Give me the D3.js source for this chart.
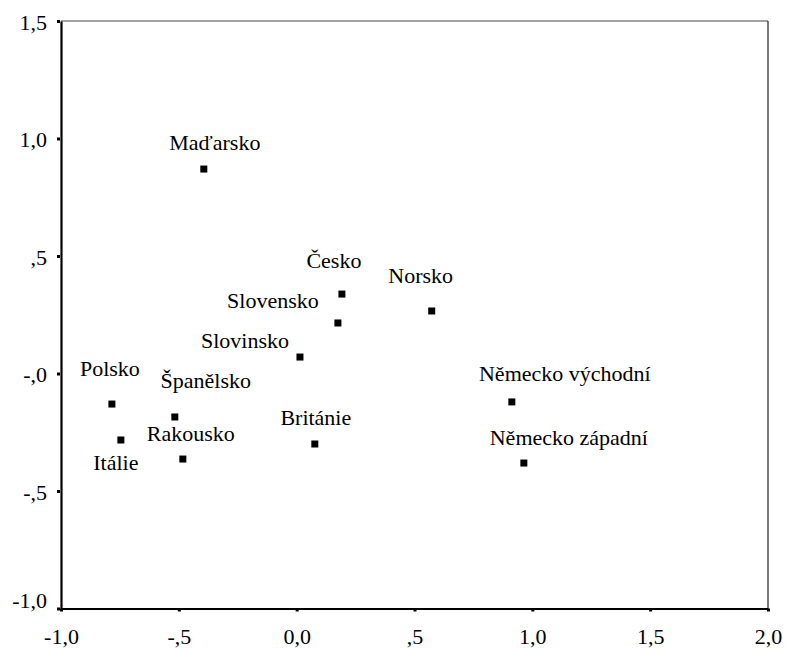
<!DOCTYPE html>
<html><head><meta charset="utf-8">
<script src="https://cdn.jsdelivr.net/npm/d3@7"></script>
<style>
body{margin:0;background:#fff}
svg{display:block}
svg text{font-family:'Liberation Serif','Times New Roman',serif !important;}
</style>
</head><body>
<script>
const countries = ["Maďarsko","Česko","Slovensko","Slovinsko","Norsko","Německo východní","Německo západní","Polsko","Španělsko","Rakousko","Itálie","Británie"];
const dim1 = [-0.394, 0.192, 0.175, 0.014, 0.573, 0.913, 0.964, -0.784, -0.517, -0.483, -0.746, 0.077];
const dim2 = [0.870, 0.338, 0.215, 0.070, 0.266, -0.121, -0.381, -0.130, -0.185, -0.364, -0.283, -0.300];
const xTicks = [-1.0, -0.5, 0.0, 0.5, 1.0, 1.5, 2.0];
const yTicks = [-1.0, -0.5, 0.0, 0.5, 1.0, 1.5];
const xTickLabels = ["-1,0", "-,5", "0,0", ",5", "1,0", "1,5", "2,0"];
const yTickLabels = ["-1,0", "-,5", "-,0", ",5", "1,0", "1,5"];
// label offsets (pixels) relative to markers
const labelDx = [11, -8, -65, -55, -11, 53, 45, -2, 31, 8, -5, 1];
const labelDy = [-19, -26, -15, -9, -28, -21, -18, -28, -29, -18, 30, -19];

const W = 786, H = 648;
const m = {left: 61, right: 768, top: 21, bottom: 608.5};
const svg = d3.select("body").append("svg").attr("width", W).attr("height", H);
const x = d3.scaleLinear().domain([-1, 2]).range([m.left, m.right]);
const y = d3.scaleLinear().domain([-1, 1.5]).range([m.bottom, m.top]);
const fs = 22;

// frame
svg.append("line").attr("x1", m.left).attr("x2", m.right).attr("y1", m.top).attr("y2", m.top).attr("stroke", "#444").attr("stroke-width", 1);
svg.append("line").attr("x1", m.right).attr("x2", m.right).attr("y1", m.top).attr("y2", m.bottom).attr("stroke", "#222").attr("stroke-width", 1.2);

// axes
const xAxis = d3.axisBottom(x).tickValues(xTicks).tickSize(0).tickPadding(0)
  .tickFormat((d, i) => xTickLabels[i]);
const gx = svg.append("g").attr("transform", `translate(0,${m.bottom})`).call(xAxis);
gx.attr("font-family", "Liberation Serif").attr("font-size", fs);
gx.select(".domain").attr("stroke", "#000").attr("stroke-width", 2);
gx.selectAll(".tick text").attr("y", 35).attr("dy", null).attr("fill", "#000");
gx.selectAll(".tick").append("rect").attr("x", -1.5).attr("y", 0).attr("width", 3).attr("height", 3).attr("fill", "#000");

const yAxis = d3.axisLeft(y).tickValues(yTicks).tickSize(0).tickPadding(0)
  .tickFormat((d, i) => yTickLabels[i]);
const gy = svg.append("g").attr("transform", `translate(${m.left},0)`).call(yAxis);
gy.attr("font-family", "Liberation Serif").attr("font-size", fs);
gy.select(".domain").attr("stroke", "#000").attr("stroke-width", 2.2);
gy.selectAll(".tick text").attr("x", -14).attr("dy", null).attr("y", (d, i) => i === 0 ? -1 : 8).attr("fill", "#000");
gy.selectAll(".tick").append("rect").attr("x", -4).attr("y", -1.5).attr("width", 3).attr("height", 3).attr("fill", "#000");

// points
const data = countries.map((c, i) => ({c, x: dim1[i], y: dim2[i], dx: labelDx[i], dy: labelDy[i]}));
const g = svg.append("g").attr("font-family", "Liberation Serif").attr("font-size", fs);
g.selectAll("rect.pt").data(data).join("rect").attr("class", "pt")
  .attr("x", d => x(d.x) - 3.5).attr("y", d => y(d.y) - 3.5)
  .attr("width", 7).attr("height", 7).attr("fill", "#000");
g.selectAll("text.lb").data(data).join("text").attr("class", "lb")
  .attr("x", d => x(d.x) + d.dx).attr("y", d => y(d.y) + d.dy)
  .attr("text-anchor", "middle").attr("fill", "#000").text(d => d.c);
</script>
</body></html>
